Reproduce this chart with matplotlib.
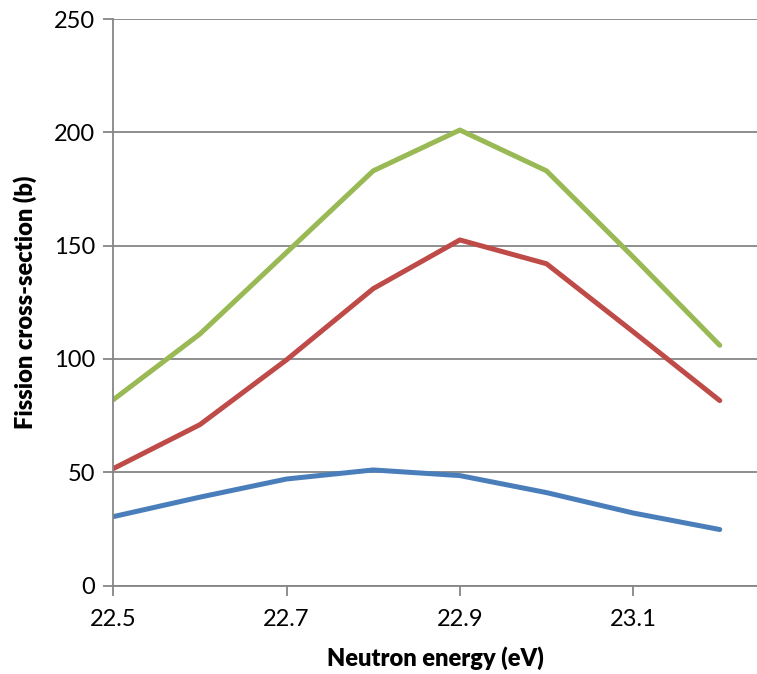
import matplotlib.pyplot as plt
import numpy as np

plt.rcParams['font.family'] = ['Lato', 'DejaVu Sans']

energy = [22.5, 22.6, 22.7, 22.8, 22.9, 23.0, 23.1, 23.2]
sigma_low = [30.4, 39, 47, 51, 48.5, 41, 32, 24.7]
sigma_mid = [51.6, 71, 99.6, 131, 152.5, 142, 112, 81.6]
sigma_high = [82, 111, 147, 183, 201, 183, 145, 106]

x_ticks = [22.5, 22.7, 22.9, 23.1]
y_ticks = [0, 50, 100, 150, 200, 250]

fig = plt.figure(figsize=(7.57, 6.74), dpi=100)
ax = fig.add_axes([0.1497, 0.1313, 0.8503, 0.8405])

grid_col = '#868686'
ax.plot(energy, sigma_low, color='#4A7EBB', lw=3.6, solid_capstyle='round')
ax.plot(energy, sigma_mid, color='#BE4B48', lw=3.6, solid_capstyle='round')
ax.plot(energy, sigma_high, color='#98B954', lw=3.6, solid_capstyle='round')

ax.set_xlim(22.5, 23.243)
ax.set_ylim(0, 250)
ax.set_xticks(x_ticks)
ax.set_xticklabels([f'{t:.1f}' for t in x_ticks])
ax.set_yticks(y_ticks)
ax.yaxis.grid(True, color=grid_col, lw=1.3)
ax.set_axisbelow(True)

for side in ['top', 'right']:
    ax.spines[side].set_visible(False)
for side in ['left', 'bottom']:
    ax.spines[side].set_color(grid_col)
    ax.spines[side].set_linewidth(1.3)

ax.tick_params(axis='both', direction='out', length=7, width=1.3, color=grid_col,
               labelsize=17, pad=6)
ax.tick_params(axis='x', pad=10)

ax.set_xlabel('Neutron energy (eV)', fontsize=17, fontweight='heavy', labelpad=12)
ax.set_ylabel('Fission cross-section (b)', fontsize=17, fontweight='heavy', labelpad=12)

fig.savefig('out.png', dpi=100)
